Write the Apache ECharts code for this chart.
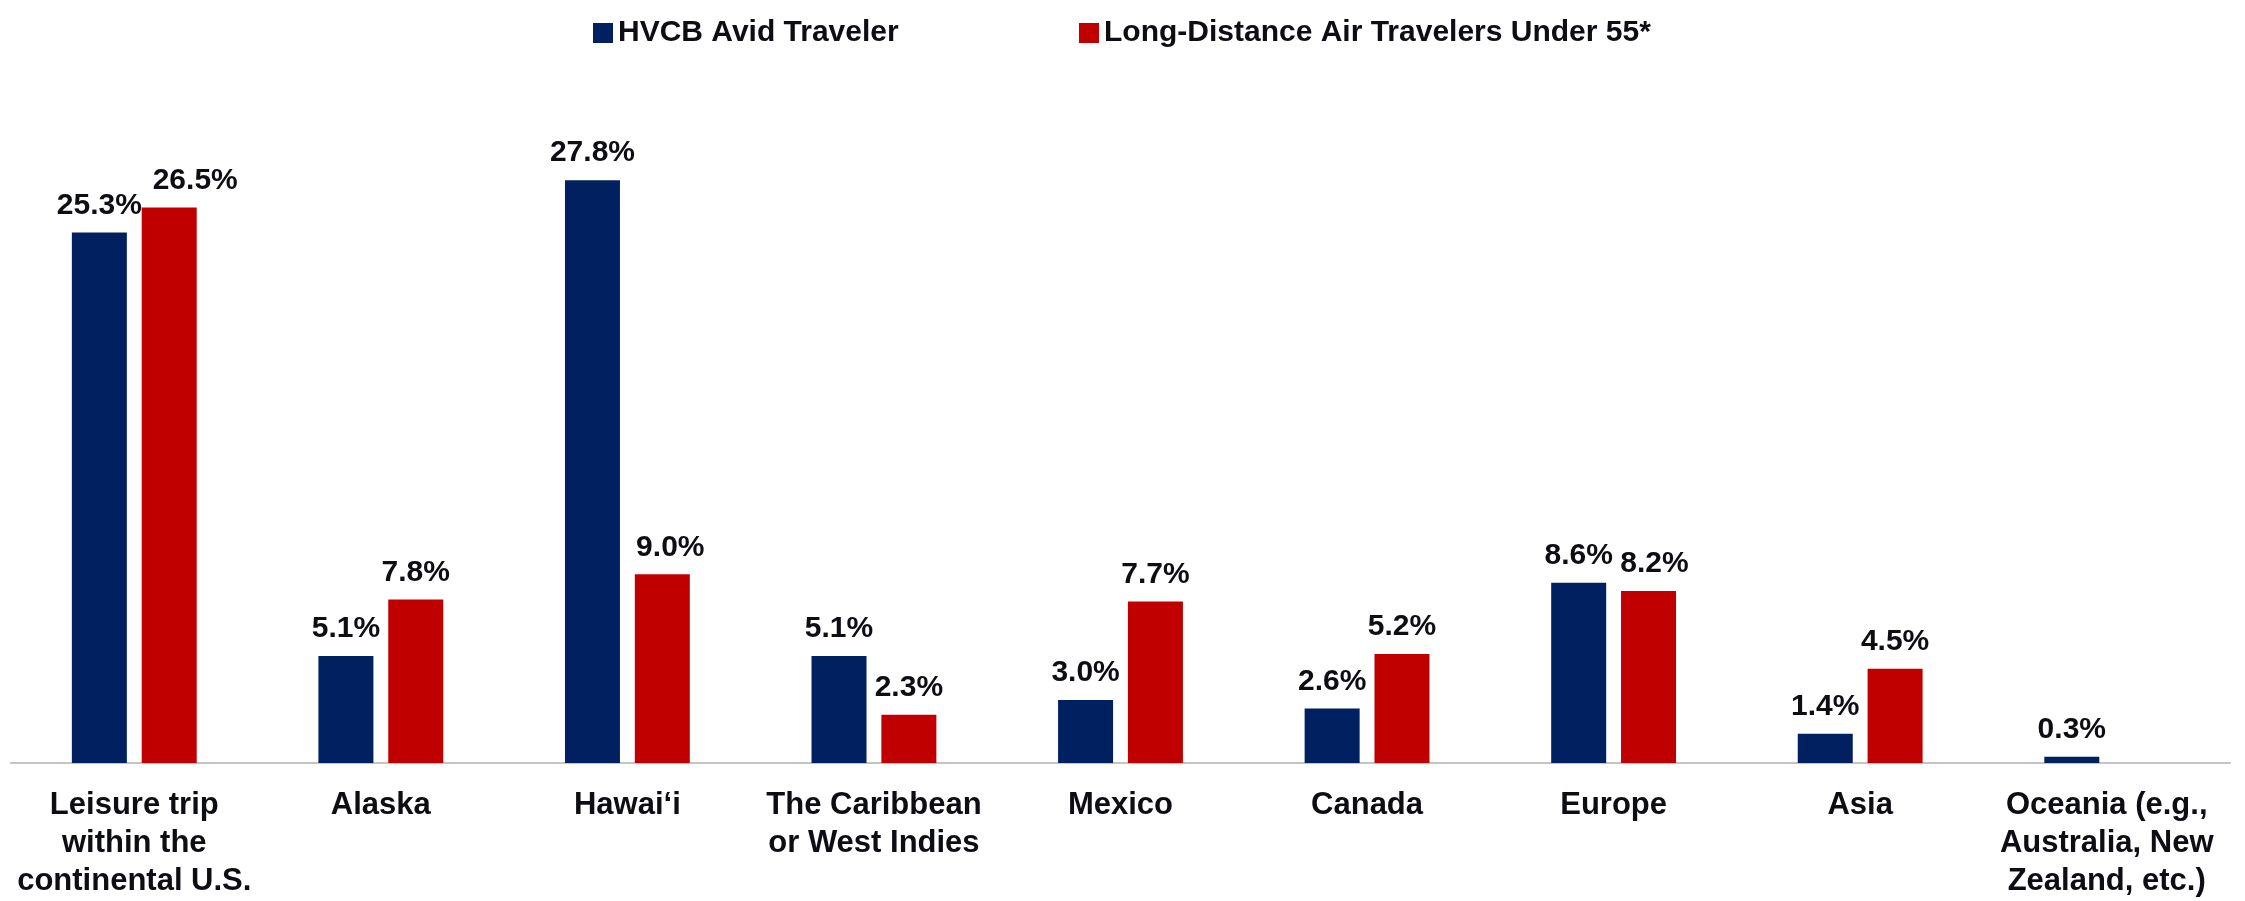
<!DOCTYPE html>
<html>
<head>
<meta charset="utf-8">
<title>Destinations</title>
<script src="https://cdn.jsdelivr.net/npm/echarts@6/dist/echarts.min.js"></script>
<style>
  html, body { margin: 0; padding: 0; background: #ffffff; }
  #chart { width: 2245px; height: 901px; }
</style>
</head>
<body>
<div id="chart"></div>
<script>
// Destinations, share of respondents (%)
const categories = [
  'Leisure trip\nwithin the\ncontinental U.S.',
  'Alaska',
  'Hawai\u2018i',
  'The Caribbean\nor West Indies',
  'Mexico',
  'Canada',
  'Europe',
  'Asia',
  'Oceania (e.g.,\nAustralia, New\nZealand, etc.)'
];
const seriesNames = ['HVCB Avid Traveler', 'Long-Distance Air Travelers Under 55*'];
const hvcbAvid = [25.3, 5.1, 27.8, 5.1, 3.0, 2.6, 8.6, 1.4, 0.3];
const longDistanceUnder55 = [26.5, 7.8, 9.0, 2.3, 7.7, 5.2, 8.2, 4.5, null];

const FONT = '"Liberation Sans", Arial, sans-serif';
const INK = '#0d0d14';
const colors = ['#002060', '#C00000'];

// Value labels on top of the bars; a few red labels sit a little to the right.
function withLabels(values, nudge) {
  return values.map((v, i) => {
    if (v === null) return null;
    const item = { value: v };
    if (nudge[i]) item.label = { offset: nudge[i] };
    return item;
  });
}

const labelStyle = {
  show: true,
  position: 'top',
  distance: 12,
  fontFamily: FONT,
  fontWeight: 'bold',
  fontSize: 30,
  color: INK,
  formatter: p => p.value.toFixed(1) + '%'
};

const chart = echarts.init(document.getElementById('chart'), null, { renderer: 'canvas' });

const legendText = { fontFamily: FONT, fontWeight: 'bold', fontSize: 30, color: INK };

chart.setOption({
  animation: false,
  backgroundColor: '#ffffff',
  legend: [
    {
      data: [seriesNames[0]], left: 588, top: 13,
      icon: 'rect', itemWidth: 20, itemHeight: 20,
      textStyle: legendText, selectedMode: false
    },
    {
      data: [seriesNames[1]], left: 1074, top: 13,
      icon: 'rect', itemWidth: 20, itemHeight: 20,
      textStyle: legendText, selectedMode: false
    }
  ],
  grid: { left: 11, right: 15, top: 134, bottom: 138, containLabel: false },
  xAxis: {
    type: 'category',
    data: categories,
    axisLine: { show: true, lineStyle: { color: '#c4c4c4', width: 2 } },
    axisTick: { show: false },
    axisLabel: {
      interval: 0,
      margin: 23,
      fontFamily: FONT,
      fontWeight: 'bold',
      fontSize: 31,
      lineHeight: 38,
      color: INK,
      align: 'center'
    }
  },
  yAxis: {
    type: 'value',
    min: 0,
    max: 30,
    show: false,
    splitLine: { show: false }
  },
  series: [
    {
      name: seriesNames[0],
      type: 'bar',
      data: withLabels(hvcbAvid, {}),
      barWidth: 55,
      barGap: '27%',
      itemStyle: { color: colors[0] },
      label: labelStyle
    },
    {
      name: seriesNames[1],
      type: 'bar',
      data: withLabels(longDistanceUnder55, { 0: [26, 0], 2: [8, 0], 6: [6, 0] }),
      barWidth: 55,
      barGap: '27%',
      itemStyle: { color: colors[1] },
      label: labelStyle
    }
  ]
});
</script>
</body>
</html>
